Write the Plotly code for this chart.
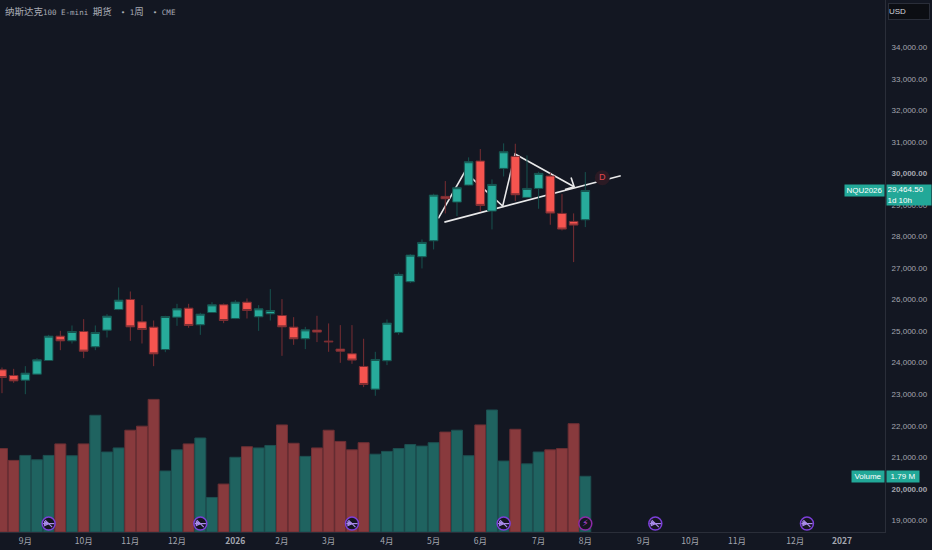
import plotly.graph_objects as go

# weekly candles, index 0..50
opens = [23773,23593,23445,23635,24069,24841,24693,24989,24503,25032,25688,26005,25296,25127,24418,25444,25730,25201,25592,25836,25402,25920,25455,25550,25497,25127,24757,
         25033,24684,24430,24282,23880,23160,24060,24959,26567,27361,27868,29276,29096,29635,30397,28810,30164,30545,29244,29529,29921,28736,28482,28535]
highs = [23847,23804,23889,24143,24883,25010,25180,25381,25180,25539,26386,26259,25825,25338,25487,25867,25867,25582,25920,25878,25984,26037,25825,26333,26016,25444,25137,
         25488,25245,25192,25192,24758,24345,25372,26863,27445,27911,29360,29762,29582,30513,30778,29815,30958,30947,30577,30058,30027,29350,28736,30048]
lows = [23032,23360,23000,23630,24060,24397,24608,24143,24397,24799,25666,24693,24608,23889,24333,25169,25106,24883,25582,25254,25381,25402,25010,25338,24217,24566,24429,
        24652,24345,23996,23964,23224,22949,23922,24885,26525,26990,27593,28736,28651,29620,28789,28228,29910,29127,29233,28884,28376,28196,27191,28302]
closes = [23529,23423,23667,24090,24841,24693,24989,24365,24958,25476,25984,25137,25053,24280,25465,25709,25180,25539,25836,25338,25920,25656,25709,25656,25137,24757,25042,
          24970,24663,24366,24081,23308,24102,25255,26800,27413,27816,29318,29202,29551,30376,28990,29656,30693,29328,29529,30006,28747,28239,28366,29464.5]
volumes = [2.68,2.30,2.46,2.32,2.46,2.83,2.45,2.83,3.75,2.57,2.70,3.27,3.40,4.26,1.96,2.64,2.83,3.02,1.11,1.54,2.40,2.74,2.70,2.78,3.44,2.85,2.43,
           2.70,3.27,2.91,2.64,2.87,2.50,2.59,2.68,2.81,2.76,2.87,3.21,3.27,2.45,3.44,3.92,2.28,3.30,2.19,2.57,2.64,2.68,3.48,1.79]
candle_index = list(range(len(opens)))

month_pos = [2,7,11,15,20,24,28,33,37,41,46,50,55,59,63,68,72]
month_labels = ["9月","10月","11月","12月","<b>2026</b>","2月","3月","4月","5月","6月","7月","8月","9月","10月","11月","12月","<b>2027</b>"]
price_ticks = list(range(19000,35000,1000))
price_labels = [("<b>%s.00</b>" if p % 10000 == 0 else "%s.00") % format(p, ",") for p in price_ticks]

# user drawings (bar index, price)
trend_x = [37.92,53.04]
trend_y = [28460,29930]
pattern_x = [37.4,39.67,42.92,43.98,49.04]
pattern_y = [28577,30057,28968,30619,29580]
head_x = [48.78,49.04,48.26]
head_y = [29879,29580,29498]
mark_x = [51.46]
mark_y = [29866]

split_events = [4,17,30,43,56,69]
bolt_events = [50]

BG="#131722"; GRID="#2a2e39"; TXT="#a3a6af"
line_w = dict(color="#e9e9ea", width=1.6)

fig = go.Figure()
# drawings sit on the base axis so candles overlay them
fig.add_trace(go.Scatter(x=trend_x,y=trend_y,mode="lines",line=line_w,yaxis="y",showlegend=False))
fig.add_trace(go.Scatter(x=pattern_x,y=pattern_y,mode="lines",line=line_w,yaxis="y",showlegend=False))
fig.add_trace(go.Scatter(x=head_x,y=head_y,mode="lines",line=line_w,yaxis="y",showlegend=False))

vol_col = ["#1f6360" if c>=o else "#883a3d" for o,c in zip(opens,closes)]
vol_edge = ["#1d4f50" if c>=o else "#6b2f34" for o,c in zip(opens,closes)]
fig.add_trace(go.Bar(x=candle_index,y=volumes,yaxis="y2",marker=dict(color=vol_col,line=dict(color=vol_edge,width=1)),showlegend=False))
ev_y = 0.27
fig.add_trace(go.Scatter(x=split_events,y=[ev_y]*len(split_events),yaxis="y2",mode="markers",
    marker=dict(size=13,color="#15151f",line=dict(color="#7c3fd9",width=1.5)),showlegend=False))
for sym,size,w in [("line-ew",8,1.2),("line-nw",7,1.2),("arrow-right-open",4,1.2)]:
    fig.add_trace(go.Scatter(x=split_events,y=[ev_y]*len(split_events),yaxis="y2",mode="markers",
        marker=dict(symbol=sym,size=size,color="#a98bea",line=dict(color="#a98bea",width=w)),showlegend=False))
fig.add_trace(go.Scatter(x=bolt_events,y=[ev_y],yaxis="y2",mode="markers+text",
    marker=dict(size=13,color="#15151f",line=dict(color="#8e2aa8",width=1.5)),
    text=["⚡"],textposition="middle center",textfont=dict(size=9,color="#c24be0",family="DejaVu Sans"),showlegend=False))

fig.add_trace(go.Candlestick(x=candle_index,open=opens,high=highs,low=lows,close=closes,yaxis="y3",
    increasing=dict(line=dict(color="#17534f",width=1),fillcolor="#27ab9b"),
    decreasing=dict(line=dict(color="#7a2e33",width=1),fillcolor="#f5544f"),
    whiskerwidth=0,showlegend=False))
fig.add_trace(go.Scatter(x=mark_x,y=mark_y,yaxis="y3",mode="markers+text",
    marker=dict(size=15,color="#2b1a24"),text=["D"],textposition="middle center",
    textfont=dict(size=9,color="#e0474c",family="Liberation Sans"),showlegend=False))

P0,P1 = 18627,35508
nb = "\u00a0"
fig.update_layout(
    width=932,height=550,margin=dict(l=0,r=47,t=0,b=18.3),
    paper_bgcolor=BG,plot_bgcolor=BG,hovermode=False,bargap=0.06,boxgap=0.26,boxgroupgap=0,
    xaxis=dict(range=[-0.171,75.69],rangeslider=dict(visible=False),tickmode="array",tickvals=month_pos,ticktext=month_labels,
        showgrid=False,zeroline=False,showline=True,linecolor=GRID,linewidth=1,ticks="",ticklabelstandoff=1,
        tickfont=dict(size=8.5,color=TXT,family="Noto Sans CJK SC")),
    yaxis=dict(range=[P0,P1],side="right",tickmode="array",tickvals=price_ticks,ticktext=price_labels,showgrid=False,zeroline=False,
        showline=True,linecolor=GRID,linewidth=1,ticks="",ticklabelstandoff=4,
        tickfont=dict(size=8,color=TXT,family="Liberation Sans")),
    yaxis2=dict(range=[0,17.09],overlaying="y",visible=False),
    yaxis3=dict(range=[P0,P1],overlaying="y",visible=False),
    annotations=[
        dict(xref="paper",yref="paper",x=0.005,y=1,yshift=-5,xanchor="left",yanchor="top",showarrow=False,align="left",
             text=f'<span style="font-size:9.5px">纳斯达克</span>100 E-mini <span style="font-size:9.5px">期货</span>{nb}{nb}•{nb}1<span style="font-size:9.5px">周</span>{nb}{nb}•{nb}CME',
             font=dict(size=7.5,color="#a9acb5",family="DejaVu Sans Mono, Noto Sans CJK SC"),borderpad=0),
        dict(xref="paper",yref="y",x=1,y=29464.5,xanchor="right",yanchor="middle",showarrow=False,text="NQU2026",
             font=dict(size=8,color="#ffffff",family="Liberation Sans"),bgcolor="#22a898",width=38,height=10,borderpad=0.5),
        dict(xref="paper",yref="y",x=1,y=29464.5,xshift=0.5,yshift=-4.5,xanchor="left",yanchor="middle",showarrow=False,align="left",
             text="29,464.50<br>1d 10h",font=dict(size=8,color="#ffffff",family="Liberation Sans"),bgcolor="#22a898",width=43,height=19,borderpad=0.5),
        dict(xref="paper",yref="y2",x=1,y=1.79,xanchor="right",yanchor="middle",showarrow=False,text="Volume",
             font=dict(size=8,color="#ffffff",family="Liberation Sans"),bgcolor="#22a898",width=31,height=10,borderpad=0.5),
        dict(xref="paper",yref="y2",x=1,y=1.79,xshift=0.5,xanchor="left",yanchor="middle",showarrow=False,text="1.79 M",
             font=dict(size=8,color="#ffffff",family="Liberation Sans"),bgcolor="#22a898",width=31,height=10,borderpad=0.5),
        dict(xref="paper",yref="paper",x=1,y=1,xshift=2.5,yshift=-2.5,xanchor="left",yanchor="top",showarrow=False,align="left",text="USD",
             font=dict(size=8,color="#d1d4dc",family="Liberation Sans"),bgcolor="#0c0e13",bordercolor=GRID,borderwidth=1,width=40,height=15,borderpad=0),
    ],
)
fig.write_html("out.html",config=dict(displayModeBar=False),post_script="document.body.style.margin='0';document.documentElement.style.overflow='hidden';")
